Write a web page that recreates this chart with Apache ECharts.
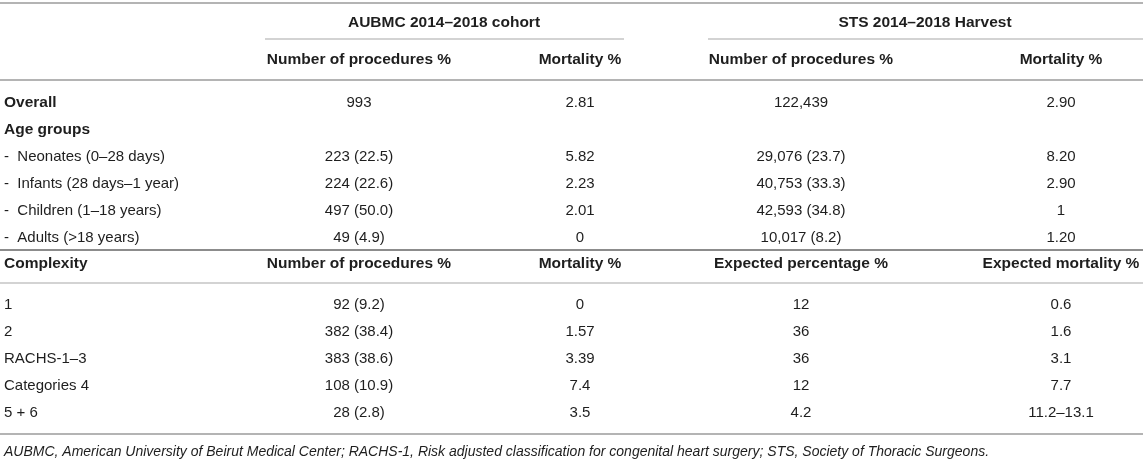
<!DOCTYPE html>
<html lang="en">

<head>
    <meta charset="UTF-8">
    <title>AUBMC vs STS</title>
    <script src="https://cdn.jsdelivr.net/npm/echarts@6/dist/echarts.min.js"></script>
    <style>
        html, body { margin: 0; padding: 0; background: #fff; }
        #main { width: 1143px; height: 461px; }
    </style>
</head>

<body>
    <div id="main"></div>
    <script>
        // table content
        var groupTitles = ['AUBMC 2014–2018 cohort', 'STS 2014–2018 Harvest'];
        var colTitles = ['Number of procedures %', 'Mortality %', 'Number of procedures %', 'Mortality %'];
        var overallRow = ['Overall', '993', '2.81', '122,439', '2.90'];
        var ageTitle = 'Age groups';
        var ageLabels = ['-  Neonates (0–28 days)', '-  Infants (28 days–1 year)', '-  Children (1–18 years)', '-  Adults (>18 years)'];
        var ageCount = ['223 (22.5)', '224 (22.6)', '497 (50.0)', '49 (4.9)'];
        var ageMort = ['5.82', '2.23', '2.01', '0'];
        var stsAgeCount = ['29,076 (23.7)', '40,753 (33.3)', '42,593 (34.8)', '10,017 (8.2)'];
        var stsAgeMort = ['8.20', '2.90', '1', '1.20'];
        var complexityTitles = ['Complexity', 'Number of procedures %', 'Mortality %', 'Expected percentage %', 'Expected mortality %'];
        var complexityLabels = ['1', '2', 'RACHS-1–3', 'Categories 4', '5 + 6'];
        var complexityCount = ['92 (9.2)', '382 (38.4)', '383 (38.6)', '108 (10.9)', '28 (2.8)'];
        var complexityMort = ['0', '1.57', '3.39', '7.4', '3.5'];
        var expectedPct = ['12', '36', '36', '12', '4.2'];
        var expectedMort = ['0.6', '1.6', '3.1', '7.7', '11.2–13.1'];
        var footnote = 'AUBMC, American University of Beirut Medical Center; RACHS-1, Risk adjusted classification for congenital heart surgery; STS, Society of Thoracic Surgeons.';

        // layout (pixel frame of the grid)
        var W = 1143, H = 461;
        var colX = [4, 359, 580, 801, 1061];
        var groupX = [444, 925];
        var step = 27;
        var yGroup = 23, yHead = 60, yOverall = 103, yCompHead = 264, yComp = 305, yFoot = 452;

        var cells = [];
        function cell(x, y, text, kind, align) {
            cells.push({ x: x, y: y, text: text, kind: kind, align: align });
        }
        function row(y, values, kind) {
            for (var c = 0; c < values.length; c++) {
                cell(colX[c], y, values[c], kind, c == 0 ? 'left' : 'center');
            }
        }

        cell(groupX[0], yGroup, groupTitles[0], 'bold', 'center');
        cell(groupX[1], yGroup, groupTitles[1], 'bold', 'center');
        for (var i = 0; i < colTitles.length; i++) {
            cell(colX[i + 1], yHead, colTitles[i], 'bold', 'center');
        }
        cell(colX[0], yOverall, overallRow[0], 'bold', 'left');
        row(yOverall, [''].concat(overallRow.slice(1)), 'plain');
        cell(colX[0], yOverall + step, ageTitle, 'bold', 'left');
        for (var i = 0; i < ageLabels.length; i++) {
            row(yOverall + step * (i + 2), [ageLabels[i], ageCount[i], ageMort[i], stsAgeCount[i], stsAgeMort[i]], 'plain');
        }
        row(yCompHead, complexityTitles, 'bold');
        for (var i = 0; i < complexityLabels.length; i++) {
            row(yComp + step * i, [complexityLabels[i], complexityCount[i], complexityMort[i], expectedPct[i], expectedMort[i]], 'plain');
        }
        cell(colX[0], yFoot, footnote, 'italic', 'left');

        // horizontal rules: [x1, y, x2, width, color]
        var rules = [
            [0, 3, W, 2, '#b4b4b4'],
            [265, 39, 624, 1.5, '#c4c4c4'],
            [708, 39, W, 1.5, '#c4c4c4'],
            [0, 80, W, 2, '#b4b4b4'],
            [0, 250, W, 2, '#8c8c8c'],
            [0, 283, W, 1.5, '#c4c4c4'],
            [0, 434, W, 2, '#b4b4b4']
        ];

        var fonts = {
            bold: { fontWeight: 'bold', fontSize: 15.5, fontStyle: 'normal' },
            plain: { fontWeight: 'normal', fontSize: 15, fontStyle: 'normal' },
            italic: { fontWeight: 'normal', fontSize: 14, fontStyle: 'italic' }
        };

        var chart = echarts.init(document.getElementById('main'));
        var option = {
            animation: false,
            grid: { left: 0, right: 0, top: 0, bottom: 0 },
            xAxis: { type: 'value', min: 0, max: W, show: false },
            yAxis: { type: 'value', min: 0, max: H, inverse: true, show: false },
            series: [
                {
                    type: 'custom',
                    data: rules.map(function (r) { return [r[0], r[1], r[2]]; }),
                    renderItem: function (params, api) {
                        var r = rules[params.dataIndex];
                        var p1 = api.coord([api.value(0), api.value(1)]);
                        var p2 = api.coord([api.value(2), api.value(1)]);
                        return {
                            type: 'line',
                            shape: { x1: p1[0], y1: p1[1], x2: p2[0], y2: p2[1] },
                            style: { stroke: r[4], lineWidth: r[3] }
                        };
                    }
                },
                {
                    type: 'custom',
                    data: cells.map(function (c) { return [c.x, c.y]; }),
                    renderItem: function (params, api) {
                        var c = cells[params.dataIndex];
                        var p = api.coord([api.value(0), api.value(1)]);
                        var f = fonts[c.kind];
                        return {
                            type: 'text',
                            x: p[0],
                            y: p[1],
                            style: {
                                text: c.text,
                                fill: '#1e1e1e',
                                fontFamily: '"Liberation Sans", Arial, Helvetica, sans-serif',
                                fontSize: f.fontSize,
                                fontWeight: f.fontWeight,
                                fontStyle: f.fontStyle,
                                align: c.align,
                                verticalAlign: 'middle'
                            }
                        };
                    }
                }
            ]
        };
        chart.setOption(option);
    </script>
</body>

</html>
